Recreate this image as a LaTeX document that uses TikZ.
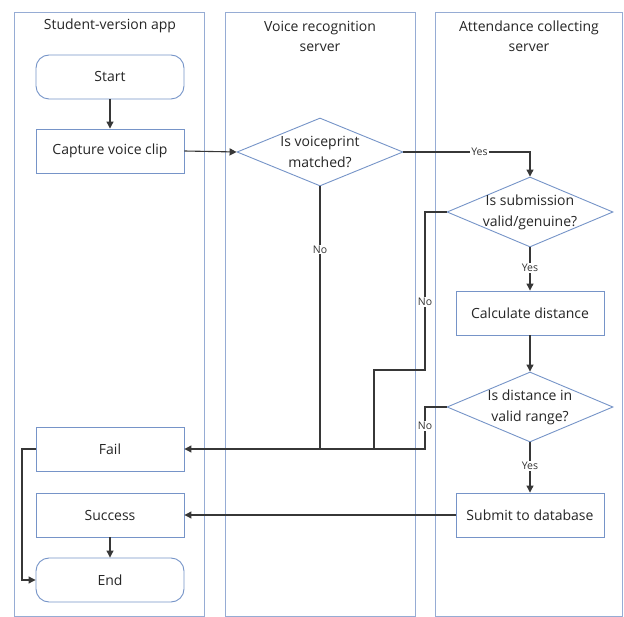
\documentclass[tikz,border=0pt]{standalone}
\usepackage{fontspec}
\setmainfont{Open Sans}
\usetikzlibrary{shapes.geometric,arrows.meta,calc}
\definecolor{laneblue}{RGB}{150,172,212}
\definecolor{boxblue}{RGB}{118,148,200}
\definecolor{lineg}{RGB}{55,55,55}
\begin{document}
\begin{tikzpicture}[x=1pt,y=-1pt,
  lane/.style={draw=laneblue,line width=0.9pt,fill=white},
  hdr/.style={font=\fontsize{14}{20}\selectfont,align=center,text=black!85},
  proc/.style={draw=boxblue,line width=0.9pt,fill=white,minimum width=148pt,minimum height=44pt,inner sep=0pt,font=\fontsize{14}{17}\selectfont,text=black!85},
  term/.style={proc,rounded corners=13pt},
  dia/.style={draw=boxblue,line width=0.9pt,fill=white,diamond,minimum width=166pt,minimum height=68pt,inner sep=0pt},
  diatext/.style={font=\fontsize{14}{21}\selectfont,align=center,text=black!85},
  conn/.style={draw=lineg,line width=1.1pt,-{Triangle[length=7pt,width=7pt]}},
  plain/.style={draw=lineg,line width=1.1pt},
  lbl/.style={fill=white,inner sep=1pt,font=\fontsize{10.5}{12}\selectfont,text=black!80}]
\useasboundingbox (0,0) rectangle (624,617);
% lanes
\draw[lane] (14,12) rectangle (204,616);
\draw[lane] (225,12) rectangle (415,616);
\draw[lane] (435,12) rectangle (622,616);
\node[hdr] (h1) at (110,26) {Student-version app};
\node[hdr] (h2) at (320,36) {Voice recognition\\server};
\node[hdr] (h3) at (529,36) {Attendance collecting\\server};
% nodes
\node[term] (start) at (110,77) {Start};
\node[proc] (capture) at (110,151) {Capture voice clip};
\node[proc] (fail) at (110,449) {Fail};
\node[proc] (success) at (110,515) {Success};
\node[term] (end) at (110,580) {End};
\node[dia] (d1) at (320,152) {};
\node[diatext] (t1) at (d1.center) {Is voiceprint\\matched?};
\node[dia,minimum height=70pt] (d2) at (530,212) {};
\node[diatext] (t2) at (d2.center) {Is submission\\valid/genuine?};
\node[proc] (calc) at (530,313) {Calculate distance};
\node[dia,minimum height=70pt] (d3) at (530,407) {};
\node[diatext] (t3) at (d3.center) {Is distance in\\valid range?};
\node[proc] (submit) at (530,515) {Submit to database};
% helper coordinates
\coordinate (n2a) at (425,212);
\coordinate (n2b) at (425,370);
\coordinate (n2c) at (374,370);
\coordinate (n2d) at (374,449);
\coordinate (n3a) at (425,407);
\coordinate (n3b) at (425,449);
\coordinate (fe1) at (22,449);
\coordinate (fe2) at (22,580);
% connectors
\draw[conn] (start) -- (capture);
\draw[conn] (capture.east) -- (d1.west);
\draw[conn] (d1.east) -- node[lbl,pos=0.6]{Yes} (d1.east -| d2.north) -- (d2.north);
\draw[plain] (d1.south) -- node[lbl,pos=0.24]{No} (d1.south |- fail.east);
\draw[plain] (d2.west) -- (n2a) -- node[lbl,pos=0.57]{No} (n2b) -- (n2c) -- (n2d);
\draw[conn] (d3.west) -- (n3a) -- node[lbl,pos=0.45]{No} (n3b) -- (fail.east);
\draw[conn] (d2.south) -- node[lbl,pos=0.48]{Yes} (calc.north);
\draw[conn] (calc.south) -- (d3.north);
\draw[conn] (d3.south) -- node[lbl,pos=0.47]{Yes} (submit.north);
\draw[conn] (submit.west) -- (success.east);
\draw[conn] (success.south) -- (end.north);
\draw[conn] (fail.west) -- (fe1) -- (fe2) -- (end.west);
\end{tikzpicture}
\end{document}
